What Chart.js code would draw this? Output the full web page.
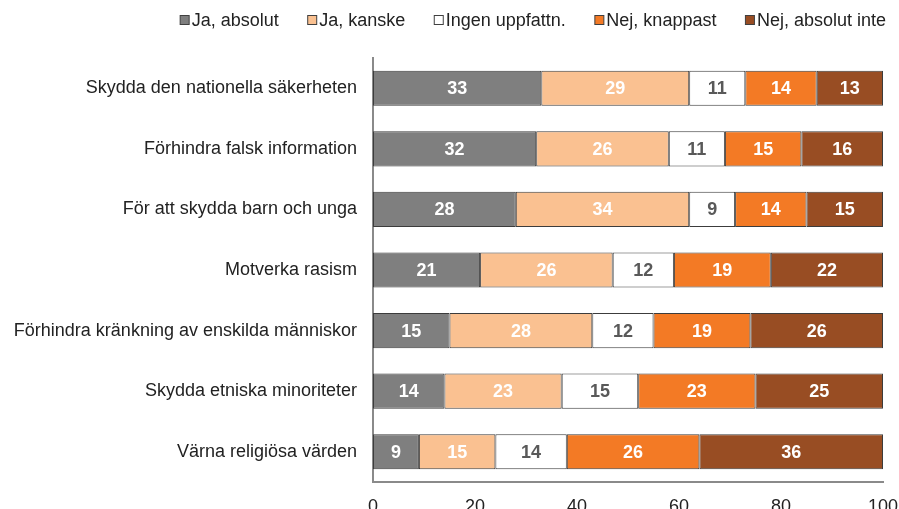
<!DOCTYPE html>
<html><head><meta charset="utf-8">
<script src="https://cdn.jsdelivr.net/npm/chart.js@4/dist/chart.umd.min.js"></script>
<style>html,body{margin:0;padding:0;background:#fff}</style>
</head><body>
<canvas id="c" width="899" height="509"></canvas>
<script>
const categories = [
  "Skydda den nationella säkerheten",
  "Förhindra falsk information",
  "För att skydda barn och unga",
  "Motverka rasism",
  "Förhindra kränkning av enskilda människor",
  "Skydda etniska minoriteter",
  "Värna religiösa värden"
];
const seriesNames = ["Ja, absolut", "Ja, kanske", "Ingen uppfattn.", "Nej, knappast", "Nej, absolut inte"];
const jaAbsolut      = [33, 32, 28, 21, 15, 14, 9];
const jaKanske       = [29, 26, 34, 26, 28, 23, 15];
const ingenUppfattn  = [11, 11, 9, 12, 12, 15, 14];
const nejKnappast    = [14, 15, 14, 19, 19, 23, 26];
const nejAbsolutInte = [13, 16, 15, 22, 26, 25, 36];
const xTicks = [0, 20, 40, 60, 80, 100];

const seriesValues = [jaAbsolut, jaKanske, ingenUppfattn, nejKnappast, nejAbsolutInte];
const seriesColors = ["#7f7f7f", "#fac191", "#ffffff", "#f37a25", "#984d23"];
const labelColors  = ["#ffffff", "#ffffff", "#595959", "#ffffff", "#ffffff"];

const FONT = '"Liberation Sans", Arial, Helvetica, sans-serif';
Chart.defaults.font.family = FONT;

const valueLabels = {
  id: 'valueLabels',
  afterDatasetsDraw(chart) {
    const ctx = chart.ctx;
    ctx.save();
    ctx.font = 'bold 18px ' + FONT;
    ctx.textAlign = 'center';
    ctx.textBaseline = 'middle';
    chart.data.datasets.forEach((ds, i) => {
      const meta = chart.getDatasetMeta(i);
      meta.data.forEach((bar, j) => {
        const p = bar.getProps(['x', 'y', 'base'], true);
        ctx.fillStyle = labelColors[i];
        ctx.fillText(String(ds.data[j]), (p.x + p.base) / 2, p.y + 1);
      });
    });
    ctx.restore();
  }
};

const customLegend = {
  id: 'customLegend',
  afterDraw(chart) {
    const ctx = chart.ctx;
    ctx.save();
    ctx.font = '18px ' + FONT;
    ctx.textBaseline = 'middle';
    ctx.textAlign = 'left';
    const box = 10, gapText = 2, gapItem = 28.5, yc = 20;
    const widths = seriesNames.map(n => ctx.measureText(n).width);
    const total = widths.reduce((a, w) => a + box + gapText + w, 0) + gapItem * (seriesNames.length - 1);
    let x = 886 - total;
    seriesNames.forEach((n, i) => {
      ctx.fillStyle = seriesColors[i];
      ctx.fillRect(x + 0.5, yc - box / 2 + 0.5, box - 1, box - 1);
      ctx.strokeStyle = '#404040';
      ctx.lineWidth = 1;
      ctx.strokeRect(x + 0.5, yc - box / 2 + 0.5, box - 1, box - 1);
      ctx.fillStyle = '#222222';
      ctx.fillText(n, x + box + gapText, yc + 1);
      x += box + gapText + widths[i] + gapItem;
    });
    ctx.restore();
  }
};

new Chart(document.getElementById('c'), {
  type: 'bar',
  data: {
    labels: categories,
    datasets: seriesNames.map((n, i) => ({
      label: n,
      data: seriesValues[i],
      backgroundColor: seriesColors[i],
      borderColor: '#3c3c3c',
      borderWidth: 1,
      borderSkipped: false,
      barPercentage: 0.58,
      categoryPercentage: 1.0
    }))
  },
  options: {
    indexAxis: 'y',
    responsive: false,
    animation: false,
    devicePixelRatio: 1,
    layout: { padding: { top: 58, right: 16, left: 0, bottom: 0 } },
    plugins: { legend: { display: false }, tooltip: { enabled: false } },
    scales: {
      x: {
        stacked: true, min: 0, max: 100,
        afterBuildTicks: (axis) => { axis.ticks = xTicks.map(v => ({ value: v })); },
        afterFit: (s) => { s.height = 27; s.paddingRight = 0; s.paddingLeft = 0; },
        grid: { display: false },
        border: { display: true, color: '#8a8a8a', width: 2 },
        ticks: { color: '#222222', font: { size: 18 }, padding: 6 }
      },
      y: {
        stacked: true,
        afterFit: (s) => { s.width = 373; },
        grid: { display: false },
        border: { display: true, color: '#8a8a8a', width: 2 },
        ticks: { color: '#222222', font: { size: 18 }, padding: 8 }
      }
    }
  },
  plugins: [valueLabels, customLegend]
});
</script>
</body></html>
